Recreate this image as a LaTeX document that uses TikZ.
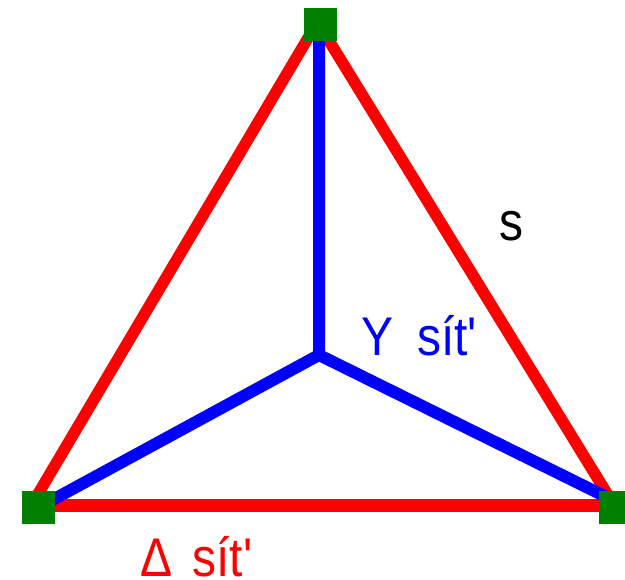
\documentclass[tikz,border=0pt]{standalone}
\usepackage{fontspec}
\newfontfamily\lblfont[Ligatures=NoCommon]{Liberation Sans}
\usepackage{tikz}
\usepackage{xcolor}
\usetikzlibrary{backgrounds}
\definecolor{sitegreen}{RGB}{0,128,0}

\begin{document}
\begin{tikzpicture}[
  x=0.02cm, y=-0.02cm,
  vertex/.style={draw=none, fill=sitegreen, minimum size=0.66cm, inner sep=0pt},
  deltaline/.style={draw=red, line width=0.23cm},
  wyeline/.style={draw=blue, line width=0.24cm},
  lbl/.style={font=\lblfont\fontsize{31}{31}\selectfont, inner sep=0pt, xscale=0.88, transform shape}
]
\useasboundingbox (0,0) rectangle (625,580);
\coordinate (hub) at (319,355);
\node[vertex] (apex) at (320.5,24.5) {};
\node[vertex] (left) at (38.5,507.5) {};
\node[vertex] (right) at (615.5,507.5) {};
\begin{scope}[on background layer]
\draw[deltaline] ([xshift=-0.09cm]apex.center) -- ([xshift=-0.17cm]left.center);
\draw[deltaline] ([xshift=-0.03cm]apex.center) -- (right.center);
\draw[deltaline, line width=0.26cm] ([yshift=0.04cm]left.center) -- ([yshift=0.04cm]right.center);
\draw[wyeline] ([xshift=-0.03cm]apex.center) -- (hub);
\draw[wyeline] (hub) -- (left.center);
\draw[wyeline] (hub) -- ([yshift=0.12cm]right.center);
\end{scope}
\node[lbl, text=black, anchor=base west] (side) at (499,241) {s};
\node[lbl, text=blue, anchor=base west] (wye) at (361,356) {Y\hspace{0.5em}sít'};
\node[lbl, text=red, anchor=base west] (delta) at (140,576) {Δ\hspace{0.42em}sít'};
\end{tikzpicture}
\end{document}
